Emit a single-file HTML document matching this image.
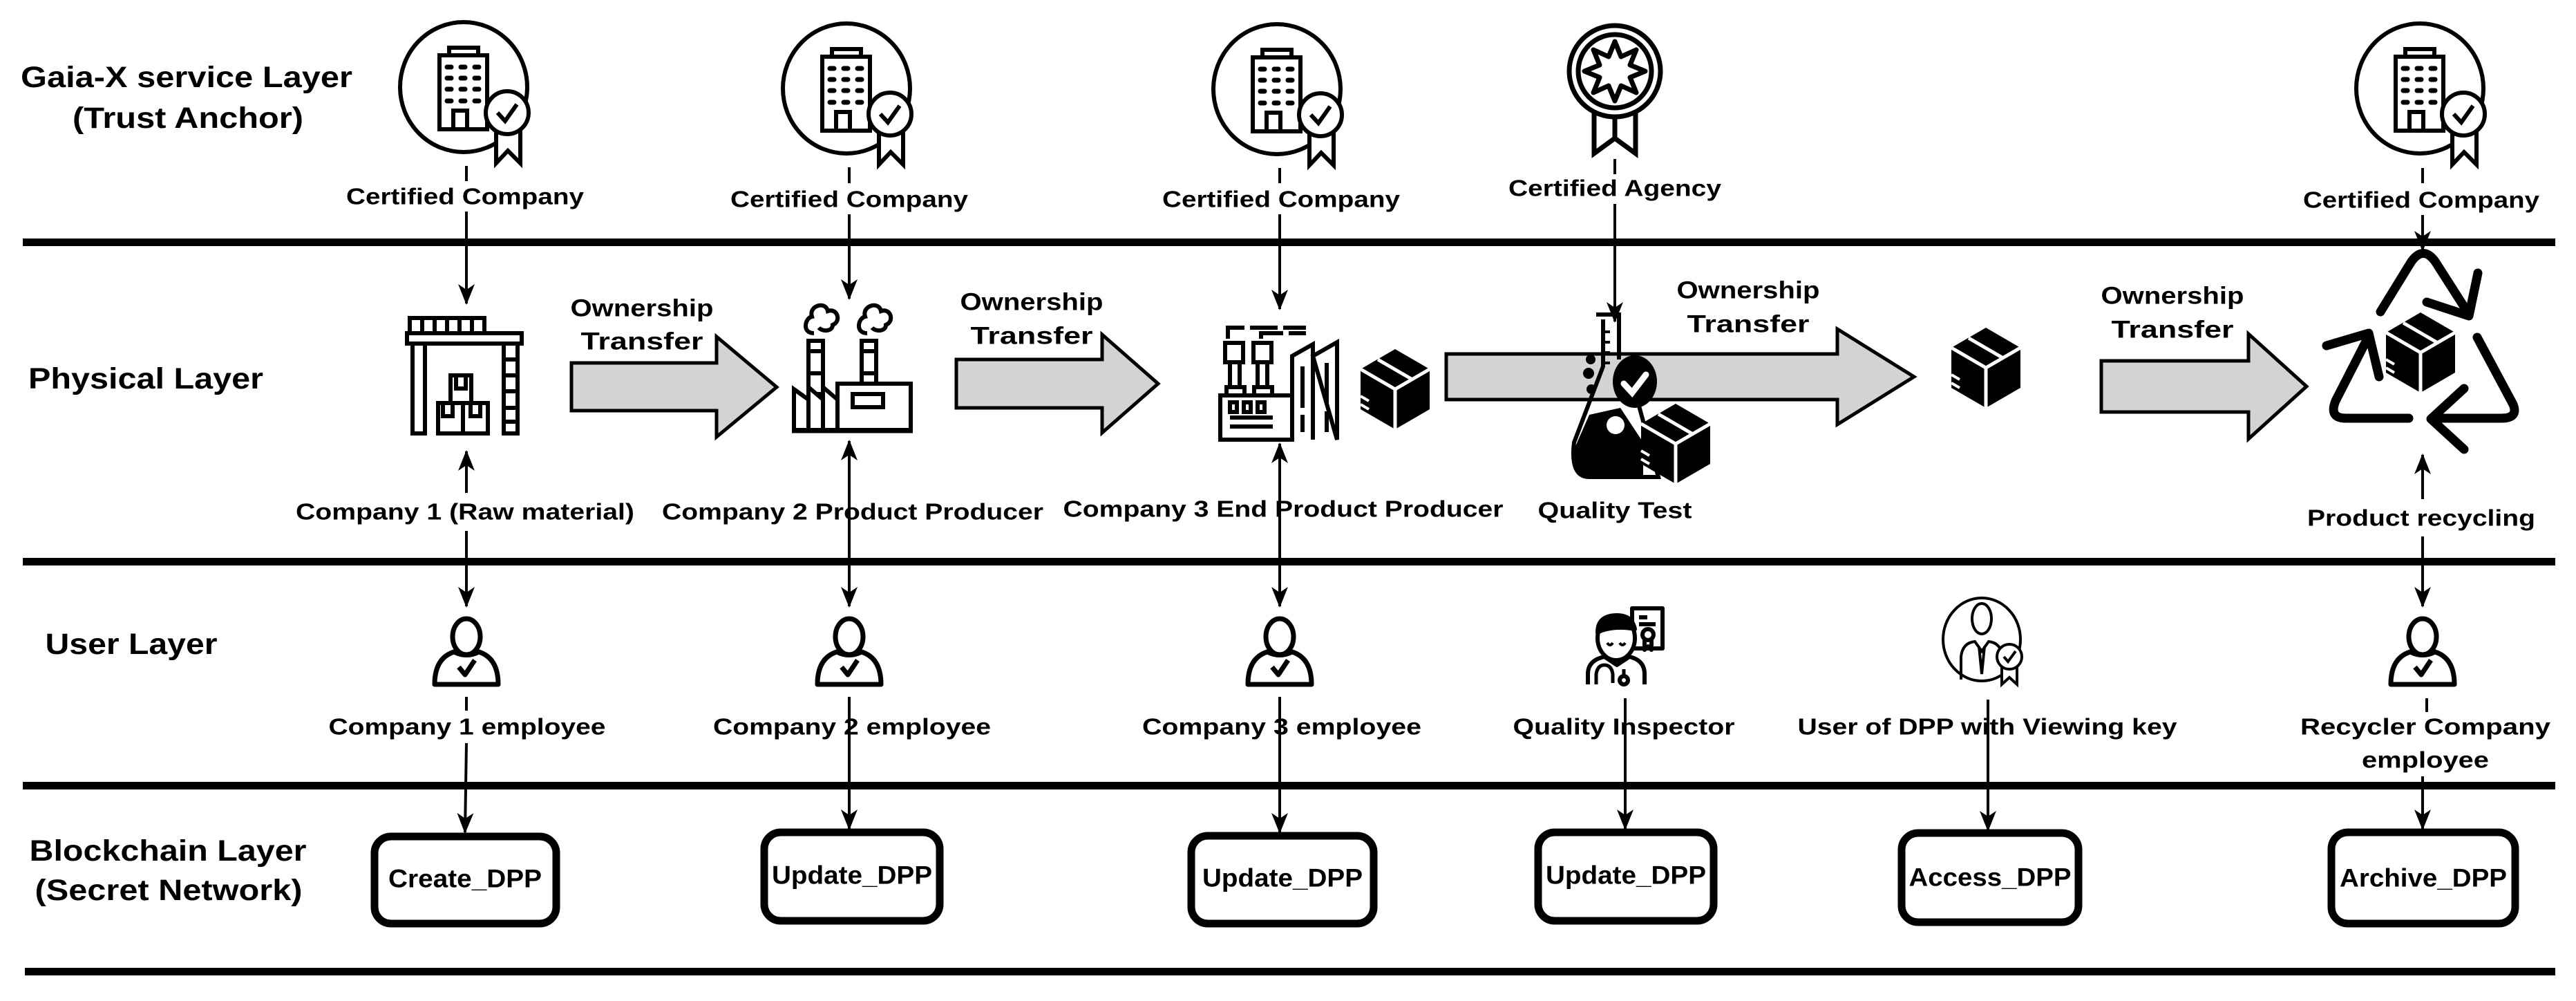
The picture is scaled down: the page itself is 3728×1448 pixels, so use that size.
<!DOCTYPE html>
<html><head><meta charset="utf-8"><style>
html,body{margin:0;padding:0;background:#fff;}
svg{display:block;}
text{font-family:"Liberation Sans",Arial,sans-serif;font-weight:bold;fill:#000;}
</style></head><body>
<svg width="3728" height="1448" viewBox="0 0 3728 1448" xmlns="http://www.w3.org/2000/svg">
<defs>
<marker id="ah" markerUnits="userSpaceOnUse" markerWidth="30" markerHeight="30" viewBox="0 0 30 30" refX="28" refY="15" orient="auto">
<path d="M0,3 L30,15 L0,27 L8,15 Z" fill="#000"/>
</marker>
<g id="bldg" stroke="#000" stroke-width="6" fill="none">
<ellipse cx="-4" cy="126" rx="92" ry="94"/>
<rect x="-39" y="80" width="69" height="107" fill="#fff"/>
<rect x="-25" y="69" width="42" height="11" fill="#fff"/>
<g stroke-width="7" stroke-linecap="round">
<line x1="-28" y1="97" x2="20" y2="97" stroke-dasharray="6 14"/>
<line x1="-28" y1="113" x2="20" y2="113" stroke-dasharray="6 14"/>
<line x1="-28" y1="129" x2="20" y2="129" stroke-dasharray="6 14"/>
<line x1="-28" y1="146" x2="20" y2="146" stroke-dasharray="6 14"/>
</g>
<rect x="-19" y="160" width="20" height="27"/>
<path d="M43 185 L43 236 L60 218 L78 236 L78 185" fill="#fff"/>
<circle cx="59" cy="163" r="31" fill="#fff"/>
<path d="M45 163 L56 175 L73 151"/>
</g>
<g id="box">
<polygon points="0,-58 50,-29 50,29 0,58 -50,29 -50,-29" fill="#000"/>
<path d="M-50,-29 L0,0 L50,-29 M0,0 L0,58 M-25,-43 L25,-14" stroke="#fff" stroke-width="5" fill="none"/>
<path d="M-50,10 L-38,17 M-50,22 L-38,29" stroke="#fff" stroke-width="4"/>
</g>
<g id="user" stroke="#000" stroke-width="7" fill="#fff" stroke-linejoin="round">
<ellipse cx="0" cy="921" rx="20" ry="26"/>
<path d="M-46 990 Q-46 952 -18 943 Q0 952 18 943 Q46 952 46 990 Z"/>
<path d="M-11 965 L-2 976 L12 955" fill="none"/>
</g>
</defs>

<!-- layer lines -->
<g fill="#000">
<rect x="33" y="345" width="3665" height="11"/>
<rect x="33" y="807" width="3665" height="11"/>
<rect x="33" y="1131" width="3665" height="11"/>
<rect x="36" y="1400" width="3662" height="11"/>
</g>

<!-- layer labels -->
<text x="270" y="112" font-size="43" text-anchor="middle" dominant-baseline="central" textLength="480" lengthAdjust="spacingAndGlyphs">Gaia-X service Layer</text>
<text x="272" y="171" font-size="43" text-anchor="middle" dominant-baseline="central" textLength="334" lengthAdjust="spacingAndGlyphs">(Trust Anchor)</text>
<text x="211" y="548" font-size="43" text-anchor="middle" dominant-baseline="central" textLength="340" lengthAdjust="spacingAndGlyphs">Physical Layer</text>
<text x="190" y="932" font-size="43" text-anchor="middle" dominant-baseline="central" textLength="249" lengthAdjust="spacingAndGlyphs">User Layer</text>
<text x="243" y="1231" font-size="43" text-anchor="middle" dominant-baseline="central" textLength="401" lengthAdjust="spacingAndGlyphs">Blockchain Layer</text>
<text x="244" y="1288" font-size="43" text-anchor="middle" dominant-baseline="central" textLength="387" lengthAdjust="spacingAndGlyphs">(Secret Network)</text>

<!-- top icons -->
<use href="#bldg" x="675" y="0"/>
<use href="#bldg" x="1229" y="2"/>
<use href="#bldg" x="1852" y="3"/>
<use href="#bldg" x="3506" y="2"/>
<!-- agency rosette -->
<g stroke="#000" stroke-width="7" fill="none">
<path d="M2307 160 L2307 222 L2337 200 L2367 222 L2367 160" fill="#fff"/>
<line x1="2337" y1="165" x2="2337" y2="200"/>
<circle cx="2337" cy="103" r="66" fill="#fff"/>
<circle cx="2337" cy="103" r="53"/>
<polygon points="2337,60 2346,82 2368,72 2359,94 2381,103 2359,112 2368,134 2346,124 2337,146 2328,124 2306,134 2315,112 2293,103 2315,94 2306,72 2328,82" stroke-linejoin="round"/>
</g>

<!-- top labels -->
<g font-size="33" text-anchor="middle" dominant-baseline="central">
<text x="673" y="284" textLength="344" lengthAdjust="spacingAndGlyphs">Certified Company</text>
<text x="1229" y="288" textLength="344" lengthAdjust="spacingAndGlyphs">Certified Company</text>
<text x="1854" y="288" textLength="344" lengthAdjust="spacingAndGlyphs">Certified Company</text>
<text x="2337" y="272" textLength="308" lengthAdjust="spacingAndGlyphs">Certified Agency</text>
<text x="3504" y="289" textLength="342" lengthAdjust="spacingAndGlyphs">Certified Company</text>
</g>

<!-- connectors top -->
<g stroke="#000" stroke-width="4" fill="none">
<line x1="675" y1="240" x2="675" y2="262"/>
<line x1="675" y1="306" x2="675" y2="439" marker-end="url(#ah)"/>
<line x1="1229" y1="242" x2="1229" y2="265"/>
<line x1="1229" y1="310" x2="1229" y2="432" marker-end="url(#ah)"/>
<line x1="1852" y1="243" x2="1852" y2="265"/>
<line x1="1852" y1="310" x2="1852" y2="447" marker-end="url(#ah)"/>
<line x1="2337" y1="230" x2="2337" y2="252"/>
<line x1="2337" y1="295" x2="2337" y2="465" marker-end="url(#ah)"/>
<line x1="3506" y1="243" x2="3506" y2="265"/>
<line x1="3506" y1="311" x2="3506" y2="362" marker-end="url(#ah)"/>
</g>

<!-- ownership arrows -->
<g fill="#d3d3d3" stroke="#000" stroke-width="5" stroke-linejoin="miter">
<polygon points="827,525 1037,525 1037,487 1124,560 1037,632 1037,594 827,594"/>
<polygon points="1384,520 1595,520 1595,484 1676,555 1595,626 1595,590 1384,590"/>
<polygon points="2093,512 2659,512 2659,476 2770,545 2659,614 2659,578 2093,578"/>
<polygon points="3041,522 3254,522 3254,483 3338,559 3254,635 3254,596 3041,596"/>
</g>
<g font-size="35" text-anchor="middle" dominant-baseline="central">
<text x="929" y="446" textLength="207" lengthAdjust="spacingAndGlyphs">Ownership</text>
<text x="929" y="494" textLength="177" lengthAdjust="spacingAndGlyphs">Transfer</text>
<text x="1493" y="437" textLength="207" lengthAdjust="spacingAndGlyphs">Ownership</text>
<text x="1493" y="486" textLength="177" lengthAdjust="spacingAndGlyphs">Transfer</text>
<text x="2530" y="420" textLength="207" lengthAdjust="spacingAndGlyphs">Ownership</text>
<text x="2530" y="469" textLength="177" lengthAdjust="spacingAndGlyphs">Transfer</text>
<text x="3144" y="428" textLength="207" lengthAdjust="spacingAndGlyphs">Ownership</text>
<text x="3144" y="477" textLength="177" lengthAdjust="spacingAndGlyphs">Transfer</text>
</g>

<!-- warehouse col1 -->
<g stroke="#000" stroke-width="6" fill="#fff">
<rect x="593" y="460" width="108" height="22"/>
<path d="M611 460 V482 M629 460 V482 M647 460 V482 M665 460 V482 M683 460 V482" fill="none"/>
<rect x="589" y="482" width="166" height="15"/>
<rect x="597" y="497" width="18" height="130"/>
<rect x="729" y="497" width="20" height="130"/>
<path d="M729 520 H749 M729 543 H749 M729 566 H749 M729 590 H749 M729 610 H749" fill="none"/>
<rect x="652" y="543" width="30" height="40"/>
<rect x="634" y="583" width="72" height="44"/>
<path d="M670 583 V627 M660 545 V562 H674 V545 M641 585 V602 H655 V585 M681 585 V602 H695 V585" fill="none"/>
</g>

<!-- factory col2 -->
<g stroke="#000" stroke-width="6" fill="#fff">
<rect x="1170" y="493" width="21" height="110"/>
<path d="M1170 508 H1191 M1170 540 H1191 M1170 570 H1191" fill="none"/>
<rect x="1247" y="493" width="21" height="90"/>
<path d="M1247 508 H1268 M1247 540 H1268" fill="none"/>
<path d="M1149 622 V563 L1170 578 V560 L1191 578 V560 L1212 578 V622 Z"/>
<path d="M1170 578 V622 M1191 578 V622" fill="none"/>
<rect x="1212" y="555" width="106" height="67"/>
<rect x="1234" y="570" width="44" height="19"/>
<line x1="1146" y1="623" x2="1321" y2="623" stroke-width="7"/>
<path d="M1178 482 C1160 482 1165 460 1175 458 C1170 442 1195 435 1198 450 C1212 445 1218 465 1205 470 C1205 480 1190 480 1185 474" fill="none"/>
<path d="M1255 482 C1237 482 1242 460 1252 458 C1247 442 1272 435 1275 450 C1289 445 1295 465 1282 470 C1282 480 1267 480 1262 474" fill="none"/>
</g>

<!-- factory col3 -->
<g stroke="#000" stroke-width="6" fill="#fff">
<path d="M1777 490 V474 H1890 M1825 490 V482 H1890" fill="none" stroke-dasharray="40 8"/>
<rect x="1773" y="496" width="26" height="28"/>
<rect x="1814" y="496" width="26" height="28"/>
<rect x="1780" y="524" width="14" height="36"/>
<rect x="1820" y="524" width="14" height="36"/>
<rect x="1775" y="560" width="26" height="12"/>
<rect x="1815" y="560" width="26" height="12"/>
<rect x="1766" y="572" width="104" height="64"/>
<rect x="1780" y="582" width="10" height="14"/>
<rect x="1800" y="582" width="10" height="14"/>
<rect x="1820" y="582" width="10" height="14"/>
<path d="M1780 604 H1842 M1780 617 H1842" fill="none"/>
<path d="M1870 636 V515 L1900 498 V636 M1900 515 L1935 495 V636 Z"/>
<path d="M1885 530 V625 M1920 525 V625" fill="none" stroke-dasharray="60 10"/>
</g>
<use href="#box" x="2019" y="563"/>

<!-- quality test -->
<g>
<path d="M2310 455 H2343 V520 M2320 462 V530 L2278 640 Q2272 690 2300 690 H2400 L2370 580 " stroke="#000" stroke-width="6" fill="none"/>
<path d="M2300 600 L2345 590 L2378 640 L2378 690 H2300 Q2272 690 2278 650 Z" fill="#000"/>
<circle cx="2338" cy="615" r="13" fill="#fff"/>
<circle cx="2302" cy="520" r="7" fill="#000"/>
<circle cx="2299" cy="540" r="8" fill="#000"/>
<circle cx="2303" cy="563" r="7" fill="#000"/>
<path d="M2320 480 h10 M2320 495 h10 M2320 510 h10 M2320 525 h10" stroke="#000" stroke-width="4"/>
<ellipse cx="2366" cy="552" rx="32" ry="38" fill="#000"/>
<path d="M2350 555 L2362 568 L2382 542" stroke="#fff" stroke-width="9" fill="none" stroke-linecap="round"/>
</g>
<use href="#box" x="2425" y="642" transform=""/>
<use href="#box" x="2874" y="532"/>

<!-- recycle -->
<g stroke="#000" stroke-width="13" fill="none" stroke-linecap="round" stroke-linejoin="round">
<path d="M3445 451 L3490 378 Q3507 355 3524 378 L3572 453"/>
<path d="M3512 437 L3573 457 L3586 395"/>
<path d="M3585 488 L3637 585 Q3645 605 3620 605 L3522 605"/>
<path d="M3566 562 L3518 606 L3566 650"/>
<path d="M3486 605 L3395 605 Q3370 605 3380 580 L3425 492"/>
<path d="M3367 500 L3428 482 L3443 545"/>
</g>
<use href="#box" x="3503" y="510"/>

<!-- physical labels -->
<g font-size="33" text-anchor="middle" dominant-baseline="central">
<text x="673" y="740" textLength="490" lengthAdjust="spacingAndGlyphs">Company 1 (Raw material)</text>
<text x="1234" y="740" textLength="552" lengthAdjust="spacingAndGlyphs">Company 2 Product Producer</text>
<text x="1857" y="736" textLength="637" lengthAdjust="spacingAndGlyphs">Company 3 End Product Producer</text>
<text x="2337" y="738" textLength="223" lengthAdjust="spacingAndGlyphs">Quality Test</text>
<text x="3504" y="749" textLength="330" lengthAdjust="spacingAndGlyphs">Product recycling</text>
</g>

<!-- physical-user connectors -->
<g stroke="#000" stroke-width="4" fill="none">
<line x1="675" y1="713" x2="675" y2="653" marker-end="url(#ah)"/>
<line x1="675" y1="768" x2="675" y2="877" marker-end="url(#ah)"/>
<line x1="1229" y1="780" x2="1229" y2="638" marker-end="url(#ah)"/>
<line x1="1229" y1="780" x2="1229" y2="877" marker-end="url(#ah)"/>
<line x1="1852" y1="780" x2="1852" y2="642" marker-end="url(#ah)"/>
<line x1="1852" y1="780" x2="1852" y2="877" marker-end="url(#ah)"/>
<line x1="3506" y1="722" x2="3506" y2="658" marker-end="url(#ah)"/>
<line x1="3506" y1="776" x2="3506" y2="877" marker-end="url(#ah)"/>
</g>

<!-- users -->
<use href="#user" x="675" y="0"/>
<use href="#user" x="1229" y="0"/>
<use href="#user" x="1852" y="0"/>
<use href="#user" x="3506" y="0"/>
<!-- inspector -->
<g stroke="#000" stroke-width="6" fill="#fff" stroke-linejoin="round">
<rect x="2362" y="880" width="44" height="58"/>
<path d="M2372 893 h12 M2372 903 h24" fill="none"/>
<circle cx="2385" cy="918" r="8"/>
<path d="M2380 926 V940 L2385 935 L2390 940 V926" fill="none"/>
<path d="M2298 990 V975 Q2298 955 2322 950 L2340 962 L2358 950 Q2380 955 2380 975 V990" fill="none"/>
<ellipse cx="2339" cy="923" rx="27" ry="32"/>
<path d="M2312 915 Q2312 890 2340 890 Q2362 890 2366 910 Q2340 905 2318 912 Z" fill="#000"/>
<path d="M2326 930 q4 6 8 0 M2344 930 q4 6 8 0" fill="none" stroke-width="4"/>
<path d="M2310 990 V975 Q2312 962 2322 962 Q2332 962 2334 975 V988 M2350 968 V980" fill="none" stroke-width="5"/>
<circle cx="2350" cy="984" r="6"/>
</g>
<!-- viewer -->
<g stroke="#000" stroke-width="4" fill="#fff">
<ellipse cx="2868" cy="925" rx="56" ry="60"/>
<ellipse cx="2868" cy="895" rx="14" ry="22"/>
<path d="M2838 983 V950 Q2840 930 2858 928 L2868 942 L2878 928 Q2896 930 2898 950 V983" fill="none"/>
<path d="M2864 935 L2868 975 L2872 935" fill="none"/>
<path d="M2897 950 L2897 990 L2908 980 L2919 990 L2919 950"/>
<circle cx="2908" cy="950" r="18"/>
<path d="M2900 950 L2906 957 L2917 942" fill="none"/>
</g>

<!-- user labels -->
<g font-size="33" text-anchor="middle" dominant-baseline="central">
<text x="676" y="1051" textLength="401" lengthAdjust="spacingAndGlyphs">Company 1 employee</text>
<text x="1233" y="1051" textLength="402" lengthAdjust="spacingAndGlyphs">Company 2 employee</text>
<text x="1855" y="1051" textLength="404" lengthAdjust="spacingAndGlyphs">Company 3 employee</text>
<text x="2350" y="1051" textLength="321" lengthAdjust="spacingAndGlyphs">Quality Inspector</text>
<text x="2876" y="1051" textLength="549" lengthAdjust="spacingAndGlyphs">User of DPP with Viewing key</text>
<text x="3510" y="1051" textLength="362" lengthAdjust="spacingAndGlyphs">Recycler Company</text>
<text x="3510" y="1099" textLength="184" lengthAdjust="spacingAndGlyphs">employee</text>
</g>

<!-- user-blockchain connectors -->
<g stroke="#000" stroke-width="4" fill="none">
<line x1="675" y1="1008" x2="675" y2="1028"/>
<line x1="675" y1="1075" x2="673" y2="1204" marker-end="url(#ah)"/>
<line x1="1229" y1="1008" x2="1229" y2="1199" marker-end="url(#ah)"/>
<line x1="1852" y1="1008" x2="1852" y2="1204" marker-end="url(#ah)"/>
<line x1="2352" y1="1010" x2="2352" y2="1199" marker-end="url(#ah)"/>
<line x1="2877" y1="1012" x2="2877" y2="1201" marker-end="url(#ah)"/>
<line x1="3512" y1="1010" x2="3512" y2="1030"/>
<line x1="3506" y1="1123" x2="3506" y2="1199" marker-end="url(#ah)"/>
</g>

<!-- blockchain boxes -->
<g fill="#fff" stroke="#000" stroke-width="11">
<rect x="542" y="1210" width="263" height="126" rx="24"/>
<rect x="1106" y="1204" width="254" height="128" rx="24"/>
<rect x="1724" y="1209" width="264" height="127" rx="24"/>
<rect x="2226" y="1204" width="254" height="128" rx="24"/>
<rect x="2752" y="1205" width="256" height="129" rx="24"/>
<rect x="3374" y="1204" width="266" height="132" rx="24"/>
</g>
<g font-size="37" text-anchor="middle" dominant-baseline="central">
<text x="673" y="1271" textLength="222" lengthAdjust="spacingAndGlyphs">Create_DPP</text>
<text x="1233" y="1266" textLength="232" lengthAdjust="spacingAndGlyphs">Update_DPP</text>
<text x="1856" y="1270" textLength="232" lengthAdjust="spacingAndGlyphs">Update_DPP</text>
<text x="2353" y="1266" textLength="232" lengthAdjust="spacingAndGlyphs">Update_DPP</text>
<text x="2880" y="1269" textLength="235" lengthAdjust="spacingAndGlyphs">Access_DPP</text>
<text x="3507" y="1270" textLength="242" lengthAdjust="spacingAndGlyphs">Archive_DPP</text>
</g>
</svg>
</body></html>
